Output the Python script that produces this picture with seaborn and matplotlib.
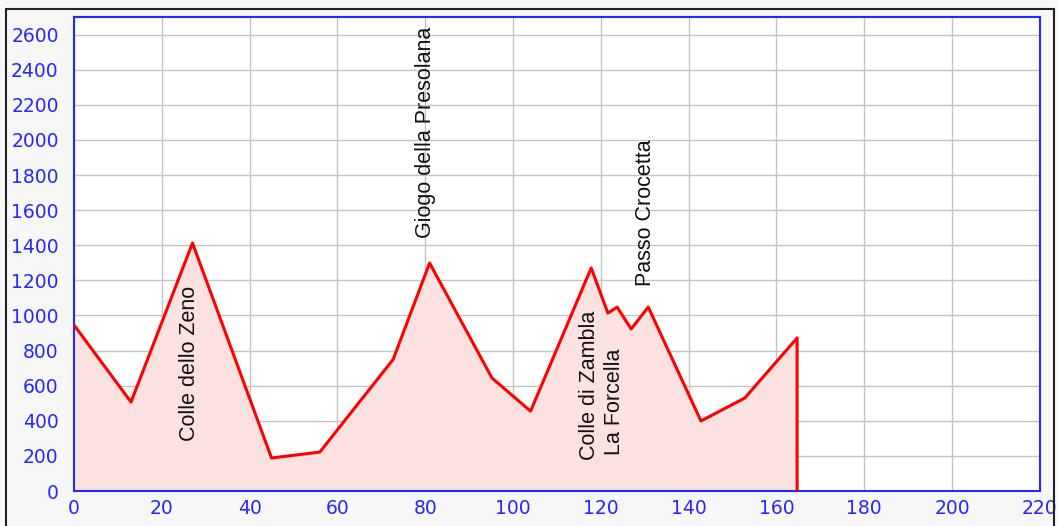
import matplotlib.pyplot as plt
import seaborn as sns
import pandas as pd
from matplotlib.patches import Rectangle

# elevation profile (km, m)
km = [0, 13, 27, 45, 56, 72.7, 81, 95.2, 104, 117.8, 121.6, 123.7, 126.9, 130.8, 142.8, 152.8, 164.7, 164.7]
elevation = [946, 507, 1413, 188, 222, 750, 1299, 644, 455, 1271, 1014, 1048, 923, 1048, 399, 530, 872, 0]

pass_names = ['Colle dello Zeno', 'Giogo della Presolana', 'Colle di Zambla', 'La Forcella', 'Passo Crocetta']
pass_km = [26.4, 80.0, 117.5, 123.2, 130.1]
pass_label_y = [286, 1440, 176, 205, 1167]

x_ticks = list(range(0, 221, 20))
y_ticks = list(range(0, 2601, 200))

df = pd.DataFrame({'km': km, 'elevation': elevation})

sns.set_style('whitegrid')
plt.rcParams['font.family'] = ['DejaVu Sans']

blue = '#2626ff'
fig = plt.figure(figsize=(10.58, 5.26), dpi=100, facecolor='#f7f7f7')
ax = fig.add_axes([0.0699, 0.0665, 0.913, 0.901])
ax.set_facecolor('white')

ax.fill_between(df['km'], df['elevation'], color='#fbe2e0', zorder=1)
sns.lineplot(data=df, x='km', y='elevation', sort=False, estimator=None,
             color='red', lw=2.2, ax=ax, zorder=3)

for name, x, y in zip(pass_names, pass_km, pass_label_y):
    ax.text(x, y, name, rotation=90, ha='center', va='bottom', fontsize=15.5,
            family='Liberation Sans', color='#111111', zorder=4)

ax.set_xlim(0, 220)
ax.set_ylim(0, 2700)
ax.set_xticks(x_ticks)
ax.set_yticks(y_ticks)
ax.set_xlabel('')
ax.set_ylabel('')
ax.grid(True, color='#c4c4c4', lw=1.0, zorder=0)
ax.set_axisbelow(True)

for s in ax.spines.values():
    s.set_color(blue)
    s.set_linewidth(1.5)
    s.set_visible(True)

ax.tick_params(axis='both', direction='in', length=8, width=1.2, color=blue,
               labelcolor=blue, labelsize=13.5)
ax.tick_params(axis='y', pad=11)
ax.tick_params(axis='x', pad=6)

# thin black frame around the image, like the original screenshot
fig.patches.append(Rectangle((6 / 1058, -0.01), 1048 / 1058, 1 - 9 / 526 + 0.01,
                             transform=fig.transFigure, fill=False,
                             edgecolor='#222222', lw=1.5))

fig.savefig('out.png', dpi=100, facecolor=fig.get_facecolor())
